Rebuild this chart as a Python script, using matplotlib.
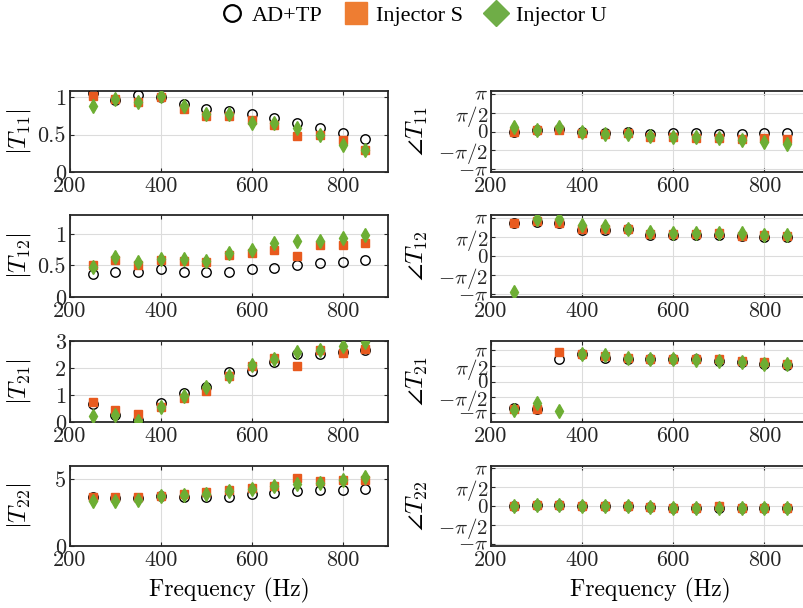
import numpy as np
import matplotlib
matplotlib.use("Agg")
import matplotlib.pyplot as plt
from matplotlib.lines import Line2D

plt.rcParams['font.family'] = 'cmr10'
plt.rcParams['mathtext.fontset'] = 'cm'
plt.rcParams['axes.formatter.use_mathtext'] = True

freq = [250, 300, 350, 400, 450, 500, 550, 600, 650, 700, 750, 800, 850]

# |T11|
t11_ad = [1.06, 0.96, 1.03, 1.00, 0.91, 0.84, 0.82, 0.77, 0.72, 0.66, 0.59, 0.52, 0.44]
t11_s  = [1.02, 0.98, 0.93, 1.00, 0.84, 0.75, 0.75, 0.70, 0.63, 0.48, 0.49, 0.43, 0.30]
t11_u  = [0.88, 0.97, 0.94, 1.01, 0.88, 0.78, 0.77, 0.66, 0.65, 0.59, 0.49, 0.36, 0.29]
# |T12|
t12_ad = [0.37, 0.40, 0.40, 0.44, 0.39, 0.39, 0.40, 0.44, 0.46, 0.50, 0.54, 0.55, 0.59]
t12_s  = [0.50, 0.58, 0.51, 0.58, 0.57, 0.55, 0.66, 0.70, 0.74, 0.65, 0.82, 0.83, 0.85]
t12_u  = [0.48, 0.63, 0.55, 0.60, 0.61, 0.57, 0.70, 0.75, 0.85, 0.88, 0.89, 0.93, 0.99]
# |T21|
t21_ad = [0.65, 0.25, 0.06, 0.71, 1.09, 1.31, 1.85, 1.90, 2.22, 2.52, 2.52, 2.60, 2.66]
t21_s  = [0.75, 0.46, 0.28, 0.56, 0.90, 1.15, 1.71, 2.09, 2.37, 2.09, 2.65, 2.56, 2.71]
t21_u  = [0.23, 0.25, 0.04, 0.54, 0.96, 1.28, 1.71, 2.10, 2.34, 2.60, 2.66, 2.81, 2.96]
# |T22|
t22_ad = [3.64, 3.62, 3.57, 3.77, 3.64, 3.69, 3.64, 3.87, 3.99, 4.12, 4.20, 4.20, 4.27]
t22_s  = [3.69, 3.69, 3.64, 3.77, 3.89, 4.02, 4.20, 4.37, 4.52, 5.13, 4.87, 4.95, 4.95]
t22_u  = [3.37, 3.39, 3.44, 3.74, 3.82, 3.87, 4.12, 4.25, 4.50, 4.62, 4.75, 4.95, 5.15]

# angle T11 (rad)
a11_ad = [0.00, 0.14, 0.20, -0.06, -0.14, -0.06, -0.20, -0.09, -0.14, -0.20, -0.20, -0.14, -0.14]
a11_s  = [-0.06, 0.14, 0.09, -0.14, -0.23, -0.14, -0.43, -0.43, -0.51, -0.51, -0.66, -0.57, -0.66]
a11_u  = [0.34, 0.14, 0.34, -0.06, -0.23, -0.20, -0.37, -0.49, -0.49, -0.57, -0.71, -0.86, -1.00]
# angle T12
a12_ad = [2.72, 2.78, 2.72, 2.09, 2.14, 2.17, 1.72, 1.72, 1.72, 1.75, 1.67, 1.53, 1.53]
a12_s  = [2.72, 2.84, 2.70, 2.17, 2.22, 2.17, 1.81, 1.81, 1.81, 1.89, 1.67, 1.72, 1.61]
a12_u  = [-2.97, 3.06, 3.06, 2.50, 2.42, 2.22, 1.95, 1.86, 1.86, 1.86, 1.89, 1.75, 1.72]
# angle T21
a21_ad = [-2.70, -2.77, 2.26, 2.80, 2.36, 2.26, 2.26, 2.26, 2.26, 2.09, 1.96, 1.79, 1.69]
a21_s  = [-2.80, -2.77, 2.94, 2.80, 2.53, 2.36, 2.30, 2.30, 2.26, 2.26, 2.03, 1.93, 1.76]
a21_u  = [-2.87, -2.13, -2.97, 2.80, 2.63, 2.36, 2.30, 2.26, 2.20, 2.03, 1.96, 1.79, 1.76]
# angle T22
a22_ad = [0.00, 0.06, 0.06, 0.00, 0.00, 0.00, -0.08, -0.14, -0.14, -0.14, -0.14, -0.20, -0.14]
a22_s  = [0.00, 0.06, 0.06, 0.00, 0.00, 0.00, -0.08, -0.14, -0.14, 0.00, -0.14, -0.20, -0.14]
a22_u  = [0.00, 0.06, 0.06, 0.00, 0.00, 0.00, -0.08, -0.14, -0.14, -0.20, -0.14, -0.20, -0.14]

mag_labels = [r'$|T_{11}|$', r'$|T_{12}|$', r'$|T_{21}|$', r'$|T_{22}|$']
ang_labels = [r'$\angle T_{11}$', r'$\angle T_{12}$', r'$\angle T_{21}$', r'$\angle T_{22}$']
legend_labels = ['AD+TP', 'Injector S', 'Injector U']
pi_ticks = [-np.pi, -np.pi / 2, 0, np.pi / 2, np.pi]
pi_labels = [r'$-\pi$', r'$-\pi/2$', r'$0$', r'$\pi/2$', r'$\pi$']

mags = [(t11_ad, t11_s, t11_u), (t12_ad, t12_s, t12_u),
        (t21_ad, t21_s, t21_u), (t22_ad, t22_s, t22_u)]
angs = [(a11_ad, a11_s, a11_u), (a12_ad, a12_s, a12_u),
        (a21_ad, a21_s, a21_u), (a22_ad, a22_s, a22_u)]
mag_ylims = [(0, 1.08), (0, 1.3), (0, 3), (0, 6)]
mag_yticks = [[0, 0.5, 1], [0, 0.5, 1], [0, 1, 2, 3], [0, 5]]
mag_yticklabels = [['0', '0.5', '1'], ['0', '0.5', '1'], ['0', '1', '2', '3'], ['0', '5']]
ang_ylims = [(-3.35, 3.35), (-3.35, 3.35), (-4.08, 4.08), (-3.35, 3.35)]

W, H = 804, 608
fig = plt.figure(figsize=(W / 100, H / 100), dpi=100)
fig.patch.set_facecolor('white')

rows = [(91, 172), (215, 297), (341, 422), (466, 546)]
cols = [(70, 388), (491, 810)]

ORANGE = '#E85A1E'
GREEN = '#6DAE33'
LEG_ORANGE = '#EE7D32'
LEG_GREEN = '#6FAD47'


def style(ax):
    ax.set_xlim(200, 900)
    ax.set_xticks([200, 400, 600, 800])
    ax.set_xticklabels(['200', '400', '600', '800'])
    ax.grid(True, color='#DCDCDC', linewidth=0.8)
    ax.set_axisbelow(True)
    for s in ax.spines.values():
        s.set_color('#262626')
        s.set_linewidth(1.3)
    ax.tick_params(direction='in', top=True, right=True, length=3,
                   labelsize=16, colors='#262626', pad=3, width=0.8)


def draw(ax, ad, s, u):
    ax.plot(freq, ad, 'o', mfc='none', mec='black', mew=1.0, ms=6.8, zorder=3)
    ax.plot(freq, s, 's', color=ORANGE, ms=5.8, mec=ORANGE, zorder=4)
    ax.plot(freq, u, 'd', color=GREEN, ms=7.2, mec=GREEN, zorder=5)


for i, (y0, y1) in enumerate(rows):
    # magnitude
    x0, x1 = cols[0]
    ax = fig.add_axes([x0 / W, 1 - y1 / H, (x1 - x0) / W, (y1 - y0) / H])
    style(ax)
    draw(ax, *mags[i])
    ax.set_ylim(*mag_ylims[i])
    ax.set_yticks(mag_yticks[i])
    ax.set_yticklabels(mag_yticklabels[i])
    ax.set_ylabel(mag_labels[i], fontsize=18)
    ax.yaxis.set_label_coords(-0.115, 0.5)
    if i == 3:
        ax.set_xlabel('Frequency (Hz)', fontsize=17, labelpad=6)
    # angle
    x0, x1 = cols[1]
    ax = fig.add_axes([x0 / W, 1 - y1 / H, (x1 - x0) / W, (y1 - y0) / H])
    style(ax)
    draw(ax, *angs[i])
    ax.set_ylim(*ang_ylims[i])
    ax.set_yticks(pi_ticks)
    ax.set_yticklabels(pi_labels)
    ax.tick_params(axis='y', labelsize=15, pad=2)
    ax.set_ylabel(ang_labels[i], fontsize=18)
    ax.yaxis.set_label_coords(-0.19, 0.5)
    if i == 3:
        ax.set_xlabel('Frequency (Hz)', fontsize=17, labelpad=6)

handles = [
    Line2D([], [], marker='o', linestyle='none', mfc='none', mec='black', mew=1.6, ms=12),
    Line2D([], [], marker='s', linestyle='none', color=LEG_ORANGE, ms=16),
    Line2D([], [], marker='D', linestyle='none', color=LEG_GREEN, ms=13),
]
fig.legend(handles, legend_labels, loc='center', bbox_to_anchor=(413 / W, 1 - 16 / H),
           ncol=3, frameon=False, prop={'family': 'Liberation Serif', 'size': 16},
           handletextpad=0.3, columnspacing=0.9, handlelength=1.2)

fig.savefig('out.png', dpi=100)
